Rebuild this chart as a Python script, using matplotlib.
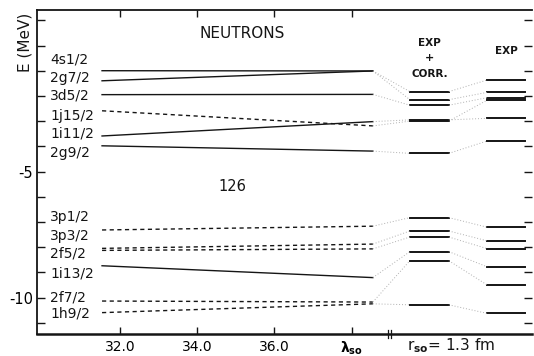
import matplotlib.pyplot as plt
from matplotlib.ticker import MultipleLocator

plt.rcParams['font.family'] = ['DejaVu Sans']

# single-particle states (upper group above N=126, lower group below)
states = ['4s1/2', '2g7/2', '3d5/2', '1j15/2', '1i11/2', '2g9/2',
          '3p1/2', '3p3/2', '2f5/2', '1i13/2', '2f7/2', '1h9/2']
dashed = [False, False, False, True, False, False,
          True, True, True, False, True, True]

# calculated energies at both ends of the lambda_so range
lam_range = [31.53, 38.55]
e_left = [-1.00, -1.40, -1.95, -2.59, -3.59, -3.98,
          -7.32, -8.05, -8.13, -8.74, -10.14, -10.60]
e_right = [-1.01, -1.01, -1.94, -3.19, -3.02, -4.19,
           -7.17, -7.88, -8.07, -9.21, -10.18, -10.25]

# experimental (+ correction) and experimental energies
e_expcorr = [-2.15, -1.83, -2.37, -3.00, -2.95, -4.28,
             -6.83, -7.36, -7.60, -8.18, -8.54, -10.29]
e_exp = [-1.86, -1.37, -2.07, -2.17, -2.89, -3.79,
         -7.21, -7.75, -8.06, -8.78, -9.50, -10.63]

expcorr_x = [39.51, 40.52]
exp_x = [41.51, 42.49]

# where the state names sit
label_y = [-0.54, -1.29, -2.00, -2.80, -3.51, -4.27,
           -6.81, -7.56, -8.27, -9.03, -9.98, -10.65]

xticks = [32, 34, 36, 38]
xticklabels = ['32.0', '34.0', '36.0', r'$\mathbf{\lambda_{so}}$']

fig = plt.figure(figsize=(5.34, 3.56), dpi=100)
ax = fig.add_axes([37/534, 22/356, 495/534, 324/356])

ink = '#151515'
for i, s in enumerate(states):
    ls = (0, (3, 2.5)) if dashed[i] else '-'
    ax.plot(lam_range, [e_left[i], e_right[i]], color=ink, lw=1.0, ls=ls)
    ax.plot(expcorr_x, [e_expcorr[i]] * 2, color=ink, lw=1.4)
    ax.plot(exp_x, [e_exp[i]] * 2, color=ink, lw=1.4)
    # dotted connectors
    ax.plot([lam_range[1], expcorr_x[0]], [e_right[i], e_expcorr[i]],
            color='#b0b0b0', lw=0.7, ls=(0, (1, 2)))
    ax.plot([expcorr_x[1], exp_x[0]], [e_expcorr[i], e_exp[i]],
            color='#b0b0b0', lw=0.7, ls=(0, (1, 2)))
    ax.text(30.18, label_y[i], s, fontsize=10, va='center', ha='left', color=ink)

ax.set_xlim(29.844, 42.675)
ax.set_ylim(-11.448, 1.409)

ax.set_xticks(xticks)
ax.set_xticklabels(xticklabels, fontsize=10)
ax.set_yticks([-10, -5])
ax.set_yticklabels(['-10', '-5'], fontsize=10.5)
ax.yaxis.set_minor_locator(MultipleLocator(1))
ax.tick_params(axis='both', which='both', direction='in', top=True, right=True,
               color=ink, pad=3)
ax.tick_params(axis='x', which='major', length=5, width=1.0, pad=4)
ax.tick_params(axis='y', which='major', length=6, width=1.0)
ax.tick_params(axis='y', which='minor', length=6, width=1.0)
ax.spines['right'].set_visible(False)
for side in ['left', 'top']:
    ax.spines[side].set_linewidth(1.3)
    ax.spines[side].set_color(ink)
ax.spines['bottom'].set_linewidth(1.8)
ax.spines['bottom'].set_color(ink)

# axis break mark
ax.plot([38.95, 38.95], [-11.6, -11.3], color=ink, lw=0.9, clip_on=False)
ax.plot([39.02, 39.02], [-11.6, -11.3], color=ink, lw=0.9, clip_on=False)

ax.text(35.17, 0.46, 'NEUTRONS', fontsize=11, ha='center', va='center', color=ink)
ax.text(34.91, -5.58, '126', fontsize=10.5, ha='center', va='center', color=ink)
ax.text(40.02, 0.08, 'EXP', fontsize=7.5, fontweight='bold', ha='center', va='center', color=ink)
ax.text(40.02, -0.48, '+', fontsize=8, fontweight='bold', ha='center', va='center', color=ink)
ax.text(40.02, -1.15, 'CORR.', fontsize=7.5, fontweight='bold', ha='center', va='center', color=ink)
ax.text(42.0, -0.2, 'EXP', fontsize=7.5, fontweight='bold', ha='center', va='center', color=ink)

fig.text(451/534, 1 - 346/356, r'r$_{\mathbf{so}}$= 1.3 fm', fontsize=11,
         ha='center', va='center', color=ink)
fig.text(25/534, 1 - 42/356, 'E (MeV)', fontsize=11, rotation=90,
         ha='center', va='center', color=ink)

fig.savefig('out.png', dpi=100)
